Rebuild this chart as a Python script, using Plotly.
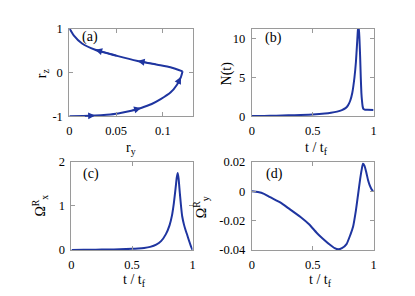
import plotly.graph_objects as go

# ---------------- data ----------------
# (a) trajectory r_y vs r_z, lower branch then upper branch
ry_low = [0, 0.015, 0.0276, 0.04, 0.0521, 0.065, 0.0766, 0.088, 0.0976, 0.108, 0.115, 0.1193, 0.121]
rz_low = [-1, -0.995, -0.985, -0.965, -0.935, -0.88, -0.81, -0.72, -0.61, -0.46, -0.28, -0.10, 0.025]
ry_up = [0.121, 0.108, 0.094, 0.073, 0.052, 0.0276, 0.0136, 0.0049, 0.0014, 0]
rz_up = [0.025, 0.12, 0.177, 0.263, 0.372, 0.517, 0.66, 0.84, 0.96, 1]

# (b) N(t)
t_b = [0, 0.1, 0.2, 0.3, 0.4, 0.5, 0.6, 0.65, 0.7, 0.74, 0.77, 0.79, 0.808, 0.825, 0.843,
       0.855, 0.865, 0.872, 0.878, 0.884, 0.89, 0.895, 0.9, 0.905, 0.91, 0.915, 0.92, 0.93, 0.95, 1.0]
N_b = [0.02, 0.05, 0.08, 0.12, 0.17, 0.23, 0.35, 0.45, 0.6, 0.8, 1.05, 1.4, 2.0, 3.0, 5.0,
       7.0, 9.5, 11.2, 11.6, 10.0, 7.5, 5.0, 3.0, 2.0, 1.3, 1.0, 0.9, 0.85, 0.83, 0.8]

# (c) Omega^R_x
t_c = [0, 0.1, 0.2, 0.3, 0.4, 0.5, 0.55, 0.6, 0.65, 0.7, 0.74, 0.78, 0.81, 0.83, 0.845,
       0.86, 0.87, 0.878, 0.885, 0.895, 0.905, 0.915, 0.93, 0.945, 0.955, 0.97, 0.985, 1.0]
Ox_c = [0.0, 0.003, 0.006, 0.01, 0.015, 0.025, 0.033, 0.045, 0.07, 0.12, 0.2, 0.36, 0.56, 0.78, 1.05,
        1.4, 1.65, 1.75, 1.62, 1.3, 1.0, 0.76, 0.57, 0.43, 0.35, 0.22, 0.1, 0.0]

# (d) Omega^R_y
t_d = [0, 0.05, 0.1, 0.15, 0.236, 0.3, 0.4, 0.47, 0.534, 0.6, 0.642, 0.68, 0.71, 0.74,
       0.778, 0.81, 0.832, 0.855, 0.873, 0.89, 0.905, 0.913, 0.925, 0.94, 0.955, 0.967, 0.985, 1.0]
Oy_d = [0, -0.0005, -0.0017, -0.004, -0.0077, -0.0115, -0.0175, -0.0225, -0.0284, -0.0335,
        -0.0365, -0.0388, -0.0396, -0.0388, -0.036, -0.0295, -0.024, -0.013, -0.002, 0.0085,
        0.016, 0.0188, 0.0175, 0.013, 0.0075, 0.0044, 0.0012, 0]

# tick values / labels
a_xticks = [0, 0.05, 0.1]
a_xlabels = ["0", "0.05", "0.1"]
a_yticks = [-1, 0, 1]
a_ylabels = ["-1", "0", "1"]
t_ticks = [0, 0.5, 1]
t_labels = ["0", "0.5", "1"]
b_yticks = [0, 5, 10]
b_ylabels = ["0", "5", "10"]
c_yticks = [0, 1, 2]
c_ylabels = ["0", "1", "2"]
d_yticks = [-0.04, -0.02, 0, 0.02]
d_ylabels = ["-0.04", "-0.02", "0", "0.02"]

# ---------------- figure ----------------
W, H = 415, 296
LC = "#1f35a0"
AXC = "#9a9a9a"
FONT = "Liberation Serif"

fig = go.Figure()

def line(x, y, xa, ya):
    fig.add_trace(go.Scatter(x=x, y=y, mode="lines", xaxis=xa, yaxis=ya,
                             line=dict(color=LC, width=2, shape="spline", smoothing=0.5),
                             showlegend=False, hoverinfo="skip"))

line(ry_low, rz_low, "x", "y")
line(ry_up, rz_up, "x", "y")
line(t_b, N_b, "x2", "y2")
line(t_c, Ox_c, "x3", "y3")
line(t_d, Oy_d, "x4", "y4")

def px_x(p):
    return p / W

def px_y(p):
    return 1 - p / H

def axis(domain, rng, tv, tt, anchor):
    return dict(domain=domain, range=rng, tickvals=tv, ticktext=tt, anchor=anchor,
                ticks="inside", ticklen=4, tickcolor=AXC, tickwidth=1,
                showline=True, linecolor=AXC, linewidth=1, mirror="ticks",
                showgrid=False, zeroline=False, ticklabelstandoff=3,
                tickfont=dict(family=FONT, size=12.5, color="black"))

xa_dom = [px_x(67.3), px_x(192.3)]
xc_dom = [px_x(69.5), px_x(192.3)]
xr_dom = [px_x(252.5), px_x(376)]
ytop_dom = [px_y(114.7), px_y(22.7)]
ybot_dom = [px_y(255), px_y(162.7)]

fig.update_layout(
    width=W, height=H, margin=dict(l=0, r=0, t=0, b=0),
    paper_bgcolor="white", plot_bgcolor="white",
    font=dict(family=FONT, color="black"),
    xaxis=axis(xa_dom, [0, 0.1316], a_xticks, a_xlabels, "y"),
    yaxis=axis(ytop_dom, [-1, 1], a_yticks, a_ylabels, "x"),
    xaxis2=axis(xr_dom, [0, 1], t_ticks, t_labels, "y2"),
    yaxis2=axis(ytop_dom, [0, 11.3], b_yticks, b_ylabels, "x2"),
    xaxis3=axis(xc_dom, [0, 1], t_ticks, t_labels, "y3"),
    yaxis3=axis(ybot_dom, [0, 2], c_yticks, c_ylabels, "x3"),
    xaxis4=axis(xr_dom, [0, 1], t_ticks, t_labels, "y4"),
    yaxis4=axis(ybot_dom, [-0.04, 0.02], d_yticks, d_ylabels, "x4"),
)

ann = []
def text(s, x, y, size=14, angle=0):
    ann.append(dict(text=s, x=px_x(x), y=px_y(y), xref="paper", yref="paper",
                    showarrow=False, textangle=angle, xanchor="center", yanchor="middle",
                    font=dict(family=FONT, size=size, color="black")))

# axis titles
text("r<sub>z</sub>", 40, 69, angle=-90)
text("r<sub>y</sub>", 130, 148)
text("N(t)", 227, 70, angle=-90)
text("t / t<sub>f</sub>", 318, 148)
text("Ω<sup>R</sup><sub>x</sub>", 38, 208, angle=-90)
text("t / t<sub>f</sub>", 133, 287)
text("Ω<sup>R</sup><sub>y</sub>", 201, 210, angle=-90)
text("t / t<sub>f</sub>", 322, 287)
# panel labels
text("(a)", 88.5, 32, size=14)
text("(b)", 274, 33, size=14)
text("(c)", 89, 175, size=14)
text("(d)", 275, 175, size=14)

# direction arrows on (a), placed on the data path
def arrow(xs, ys, i):
    ann.append(dict(x=xs[i], y=ys[i], ax=xs[i - 1], ay=ys[i - 1], xref="x", yref="y",
                    axref="x", ayref="y", showarrow=True, arrowhead=2, arrowsize=1.0,
                    arrowwidth=1.4, arrowcolor=LC, text="", standoff=0))

arrow(ry_low, rz_low, 2)
arrow(ry_low, rz_low, 6)
arrow(ry_low, rz_low, 11)
arrow(ry_up, rz_up, 3)
arrow(ry_up, rz_up, 5)

fig.update_layout(annotations=ann)
fig.write_html("out.html", config={"displayModeBar": False},
               post_script="document.body.style.margin='0';document.body.style.padding='0';")
